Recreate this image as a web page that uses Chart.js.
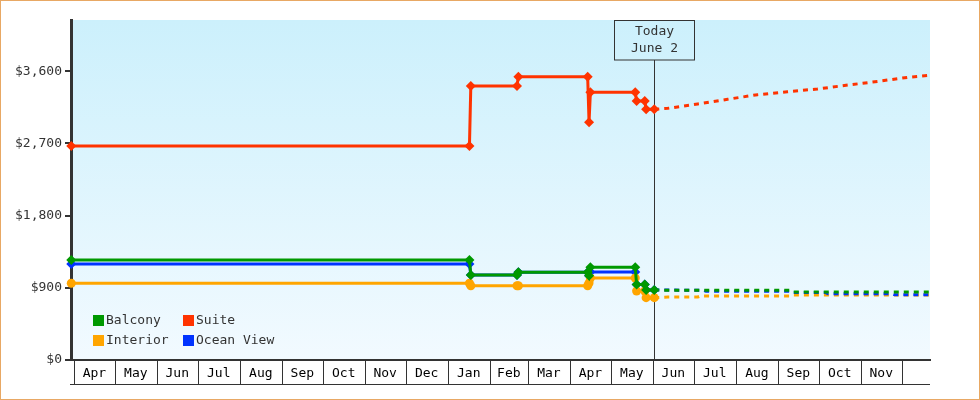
<!DOCTYPE html>
<html><head><meta charset="utf-8">
<script src="https://cdn.jsdelivr.net/npm/chart.js@4/dist/chart.umd.min.js"></script>
<style>html,body{margin:0;padding:0;background:#fff}canvas{display:block}</style>
</head><body>
<canvas id="c" width="980" height="400"></canvas>
<script>
// ---------- data ----------
const seriesNames  = ['Balcony', 'Suite', 'Interior', 'Ocean View'];
const seriesColors = ['#009900', '#ff3300', '#ffa500', '#0033ff'];

const monthLabels = ['Apr','May','Jun','Jul','Aug','Sep','Oct','Nov','Dec','Jan','Feb','Mar','Apr','May','Jun','Jul','Aug','Sep','Oct','Nov'];
const monthStarts = ['2024-04-01','2024-05-01','2024-06-01','2024-07-01','2024-08-01','2024-09-01','2024-10-01','2024-11-01','2024-12-01',
                     '2025-01-01','2025-02-01','2025-03-01','2025-04-01','2025-05-01','2025-06-01','2025-07-01','2025-08-01','2025-09-01',
                     '2025-10-01','2025-11-01','2025-12-01'];
const yTicks = [0, 900, 1800, 2700, 3600];
const todayDate = '2025-06-02';
const todayLabel = ['Today', 'June 2'];

const actualDates = ['2024-03-30','2025-01-17','2025-01-18','2025-02-21','2025-02-22','2025-04-14','2025-04-15',
                     '2025-04-16','2025-05-19','2025-05-20','2025-05-26','2025-05-27','2025-06-02'];
const balconyActual   = [1247, 1247, 1060, 1060, 1093, 1093, 1050, 1155, 1155, 941, 941, 873, 873];
const suiteActual     = [2668, 2668, 3415, 3415, 3531, 3531, 2963, 3337, 3337, 3228, 3228, 3125, 3125];
const interiorActual  = [956, 956, 926, 926, 926, 926, 960, 1022, 1022, 860, 860, 777, 777];
const oceanViewActual = [1197, 1197, 1060, 1060, 1093, 1093, 1050, 1097, 1097, 941, 941, 873, 873];

const suiteForecastDates = ['2025-06-02','2025-06-12','2025-07-04','2025-07-26','2025-08-17','2025-09-08','2025-09-30',
                            '2025-10-23','2025-11-14','2025-12-06','2025-12-22'];
const suiteForecast      = [3125, 3137, 3191, 3250, 3307, 3344, 3378, 3428, 3474, 3524, 3549];
const balconyForecastDates = ['2025-06-02','2025-06-12','2025-09-10','2025-09-12','2025-12-22'];
const balconyForecast      = [873, 869, 869, 848, 848];
const oceanViewForecastDates = ['2025-06-02','2025-07-08','2025-07-10','2025-09-10','2025-09-12','2025-10-06','2025-10-08','2025-11-24','2025-11-26','2025-12-22'];
const oceanViewForecast      = [873, 869, 857, 857, 840, 840, 825, 825, 812, 812];
const interiorForecastDates = ['2025-06-02','2025-06-12','2025-07-04','2025-07-06','2025-09-10','2025-09-12','2025-12-22'];
const interiorForecast      = [777, 785, 785, 798, 798, 810, 810];

// ---------- helpers ----------
const ORIGIN = Date.UTC(2024, 3, 1);
function day(s) { const p = s.split('-').map(Number); return (Date.UTC(p[0], p[1]-1, p[2]) - ORIGIN) / 86400000; }
function pts(dates, vals) { return dates.map((d, i) => ({ x: day(d), y: vals[i] })); }

const FONT = '"DejaVu Sans Mono", monospace';
const INK = '#333333';
const pointStyles = ['rectRot', 'rectRot', 'circle', 'rectRot'];
const pointRadii = [5, 5, 4.5, 5];

function actualDs(i, data) {
  return { label: seriesNames[i], data, borderColor: seriesColors[i], backgroundColor: seriesColors[i],
    borderWidth: 3, pointStyle: pointStyles[i], pointRadius: pointRadii[i], pointBorderWidth: 0,
    pointBackgroundColor: seriesColors[i], tension: 0, clip: false };
}
function forecastDs(i, data) {
  return { label: seriesNames[i] + ' forecast', data, borderColor: seriesColors[i], borderWidth: 3,
    borderDash: [5, 5], pointRadius: 0, tension: 0, clip: false };
}

let bgGrad = null;
const decor = {
  id: 'decor',
  beforeDraw(chart) {
    const { ctx, chartArea: a } = chart;
    ctx.save();
    ctx.fillStyle = '#ffffff';
    ctx.fillRect(0, 0, chart.width, chart.height);
    bgGrad = ctx.createLinearGradient(0, a.top, 0, a.bottom);
    bgGrad.addColorStop(0, '#ccf0fc');
    bgGrad.addColorStop(1, '#f2faff');
    ctx.fillStyle = bgGrad;
    ctx.fillRect(a.left, a.top, a.right - a.left, a.bottom - a.top);
    ctx.restore();
  },
  beforeDatasetsDraw(chart) {
    const { ctx, chartArea: a, scales } = chart;
    const tx = Math.round(scales.x.getPixelForValue(day(todayDate))) + 0.5;
    ctx.save();
    ctx.strokeStyle = INK; ctx.lineWidth = 1;
    ctx.beginPath(); ctx.moveTo(tx, a.top + 40); ctx.lineTo(tx, a.bottom); ctx.stroke();
    ctx.strokeRect(tx - 40, a.top + 0.5, 80, 39.5);
    ctx.fillStyle = INK; ctx.font = '13px ' + FONT; ctx.textAlign = 'center'; ctx.textBaseline = 'middle';
    ctx.fillText(todayLabel[0], tx, a.top + 12);
    ctx.fillText(todayLabel[1], tx, a.top + 29);
    ctx.restore();
  },
  afterDatasetsDraw(chart) {
    const { ctx, chartArea: a } = chart;
    ctx.save();
    ctx.font = '13px ' + FONT; ctx.textBaseline = 'middle'; ctx.textAlign = 'left';
    const cols = [a.left + 22, a.left + 112];
    const rows = [a.bottom - 40, a.bottom - 20];
    const order = [0, 1, 2, 3];
    order.forEach((si, k) => {
      const x = cols[k % 2], y = rows[Math.floor(k / 2)];
      ctx.fillStyle = seriesColors[si];
      ctx.fillRect(x, y - 5, 11, 11);
      ctx.fillStyle = INK;
      ctx.fillText(seriesNames[si], x + 13, y + 1);
    });
    ctx.restore();
  },
  afterDraw(chart) {
    const { ctx, chartArea: a, scales } = chart;
    ctx.save();
    ctx.strokeStyle = INK; ctx.lineWidth = 1;
    ctx.beginPath();
    monthStarts.forEach(d => {
      const x = Math.round(scales.x.getPixelForValue(day(d))) + 0.5;
      ctx.moveTo(x, a.bottom + 1); ctx.lineTo(x, a.bottom + 25);
    });
    ctx.moveTo(a.left - 1, a.bottom + 24.5); ctx.lineTo(a.right, a.bottom + 24.5);
    ctx.stroke();
    ctx.strokeStyle = '#e8a864';
    ctx.strokeRect(0.5, 0.5, chart.width - 1, chart.height - 1);
    ctx.restore();
  }
};

new Chart(document.getElementById('c'), {
  type: 'line',
  data: {
    datasets: [
      actualDs(0, pts(actualDates, balconyActual)),
      actualDs(1, pts(actualDates, suiteActual)),
      actualDs(2, pts(actualDates, interiorActual)),
      actualDs(3, pts(actualDates, oceanViewActual)),
      forecastDs(0, pts(balconyForecastDates, balconyForecast)),
      forecastDs(3, pts(oceanViewForecastDates, oceanViewForecast)),
      forecastDs(2, pts(interiorForecastDates, interiorForecast)),
      forecastDs(1, pts(suiteForecastDates, suiteForecast))
    ]
  },
  options: {
    responsive: false, animation: false, devicePixelRatio: 1,
    layout: { padding: { top: 20, right: 50, left: 0, bottom: 0 } },
    plugins: { legend: { display: false }, tooltip: { enabled: false } },
    scales: {
      x: {
        type: 'linear', min: -2.2, max: 629.9,
        afterFit(s) { s.height = 40; },
        afterBuildTicks(s) {
          s.ticks = monthLabels.map((l, i) => ({ value: (day(monthStarts[i]) + day(monthStarts[i + 1])) / 2 }));
        },
        grid: { display: false, drawTicks: false },
        border: { display: true, color: INK, width: 2 },
        ticks: { autoSkip: false, maxRotation: 0, padding: 6, color: '#000', font: { family: FONT, size: 13 },
          callback: (v, i) => monthLabels[i] }
      },
      y: {
        min: 0, max: 4238,
        afterFit(s) { s.width = 71; },
        afterBuildTicks(s) { s.ticks = yTicks.map(v => ({ value: v })); },
        grid: { drawOnChartArea: false, drawTicks: true, tickLength: 6, lineWidth: 2, color: INK },
        border: { display: true, color: INK, width: 3 },
        ticks: { padding: 3, color: INK, font: { family: FONT, size: 13 },
          callback: v => '$' + v.toLocaleString('en-US') }
      }
    }
  },
  plugins: [decor]
});
</script>
</body></html>
